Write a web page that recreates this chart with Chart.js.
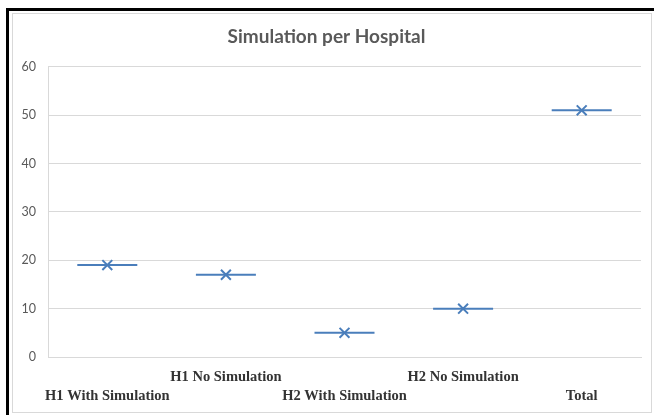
<!DOCTYPE html>
<html>
<head>
<meta charset="utf-8">
<script src="https://cdn.jsdelivr.net/npm/chart.js@4"></script>
<style>
  html, body { margin: 0; padding: 0; background: #fff; }
  body { width: 654px; height: 415px; position: relative; overflow: hidden; }
  .frame { position: absolute; left: 6px; top: 8px; width: 660px; height: 420px;
           border-top: 3px solid #000; border-left: 3px solid #000; }
  .box { position: absolute; left: 12px; top: 13px; width: 638px; height: 398px;
         border: 1px solid #d9d9d9; }
  canvas { position: absolute; left: 12px; top: 13px; }
</style>
</head>
<body>
<div class="frame"></div>
<div class="box"></div>
<canvas id="chart" width="640" height="400"></canvas>
<script>
const categories = ['H1 With Simulation', 'H1 No Simulation', 'H2 With Simulation', 'H2 No Simulation', 'Total'];
const values = [19, 17, 5, 10, 51];
const yTicks = [0, 10, 20, 30, 40, 50, 60];

const blue = '#4a7ebb';

new Chart(document.getElementById('chart').getContext('2d'), {
  type: 'line',
  data: {
    labels: categories,
    datasets: [
      {
        data: values,
        showLine: false,
        pointStyle: 'line',
        pointRadius: 30,
        pointHoverRadius: 30,
        pointBorderWidth: 2,
        borderColor: blue,
        backgroundColor: blue
      },
      {
        data: values,
        showLine: false,
        pointStyle: 'crossRot',
        pointRadius: 7,
        pointHoverRadius: 7,
        pointBorderWidth: 2,
        borderColor: blue,
        backgroundColor: blue
      }
    ]
  },
  options: {
    responsive: false,
    animation: false,
    layout: { autoPadding: false, padding: { top: 12, right: 11, left: 0, bottom: 0 } },
    plugins: {
      legend: { display: false },
      tooltip: { enabled: false },
      title: {
        display: true,
        text: 'Simulation per Hospital',
        color: '#595959',
        font: { family: 'Lato', size: 19, weight: 'bold' },
        padding: { top: 0, bottom: 19 }
      }
    },
    scales: {
      x: {
        offset: true,
        grid: { display: false, drawTicks: false },
        border: { color: '#d9d9d9' },
        afterFit: s => { s.height = 56; s.paddingLeft = 0; s.paddingRight = 0; },
        ticks: {
          autoSkip: false,
          maxRotation: 0,
          padding: 11,
          color: '#333333',
          font: { family: 'Liberation Serif', size: 14.5, weight: 'bold', lineHeight: '19px' },
          callback: (v, i) => i % 2 === 0 ? ['', categories[i]] : [categories[i]]
        }
      },
      y: {
        min: 0,
        max: 60,
        afterFit: s => { s.width = 36; },
        afterBuildTicks: s => { s.ticks = yTicks.map(v => ({ value: v })); },
        grid: { color: '#d9d9d9', drawTicks: false },
        border: { color: '#d9d9d9' },
        ticks: {
          padding: 12,
          color: '#595959',
          font: { family: 'Lato', size: 12.5 }
        }
      }
    }
  }
});
</script>
</body>
</html>
